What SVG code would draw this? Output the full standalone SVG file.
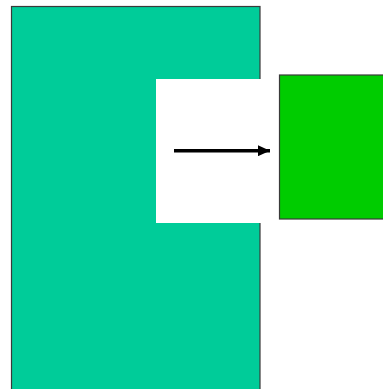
<svg xmlns="http://www.w3.org/2000/svg" width="383" height="389" viewBox="0 0 383 389">
<defs>
<style>
.shape{stroke:#3a3a3a;stroke-width:1.2}
</style>
<marker id="ah" viewBox="0 0 12 11" refX="12" refY="5.5" markerWidth="12" markerHeight="11" markerUnits="userSpaceOnUse" orient="auto">
<path d="M0,0 L12,5.5 L0,11 Z" fill="#000"/>
</marker>
</defs>
<rect width="383" height="389" fill="#fff"/>
<g id="teal-block">
<rect class="shape" x="11.5" y="6.5" width="248.5" height="400" fill="#00CC99"/>
<rect x="156" y="79" width="105" height="144" fill="#fff"/>
</g>
<g id="green-block">
<rect class="shape" x="279.5" y="75" width="110" height="144" fill="#00CC00"/>
</g>
<g id="connectors">
<line x1="174" y1="150.7" x2="270" y2="150.7" stroke="#000" stroke-width="3.5" marker-end="url(#ah)"/>
</g>
</svg>
